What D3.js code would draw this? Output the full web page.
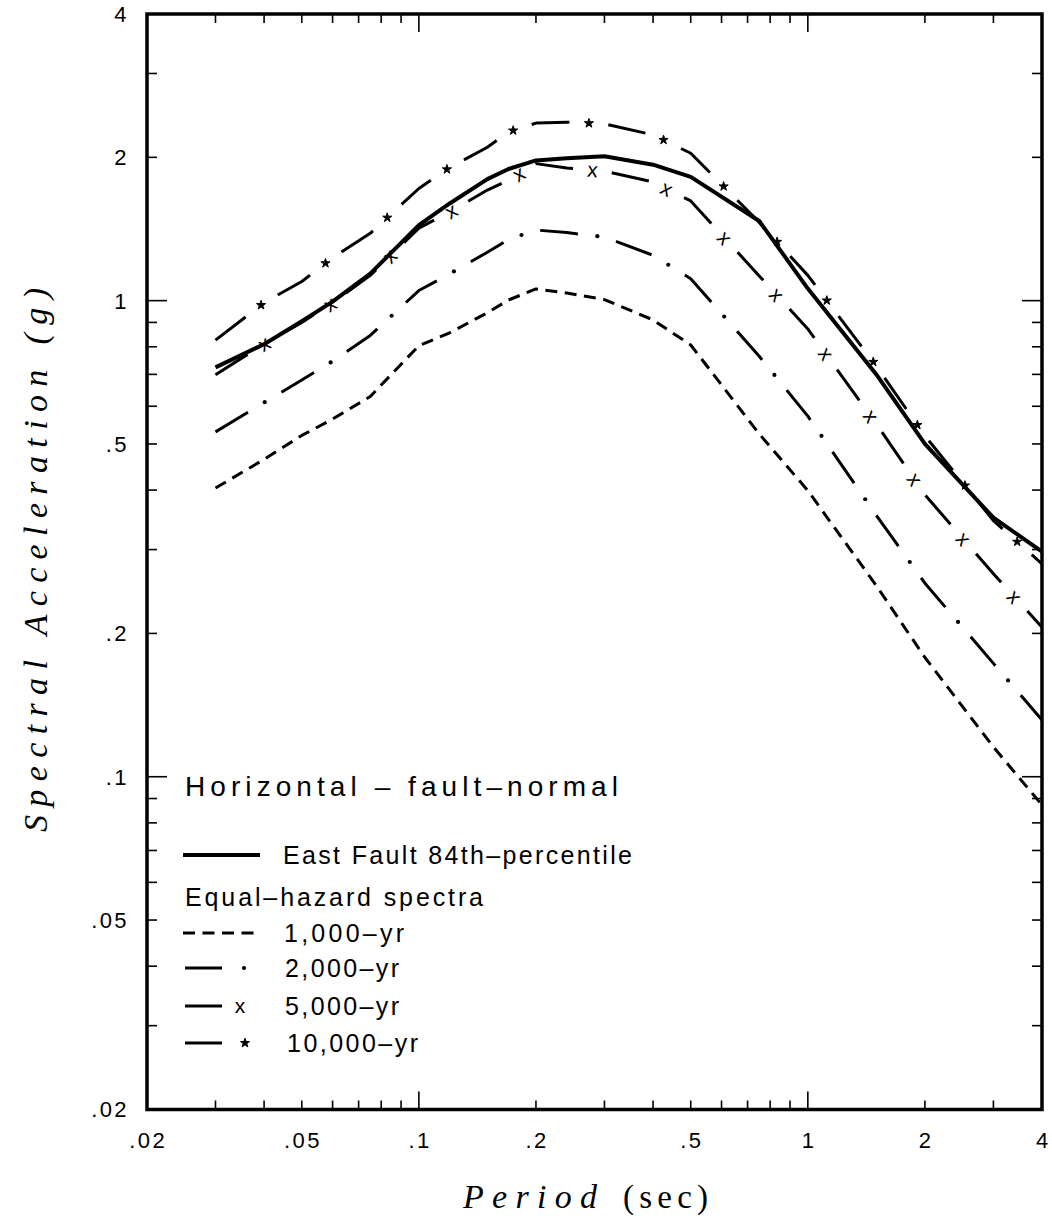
<!DOCTYPE html>
<html><head><meta charset="utf-8">
<script src="https://cdn.jsdelivr.net/npm/d3@7"></script>
<style>html,body{margin:0;padding:0;background:#fff}svg{display:block}</style>
</head><body><svg id="c" width="1052" height="1222"></svg>
<script>
// ---------------- data ----------------
const periods = [0.03,0.04,0.05,0.06,0.075,0.1,0.12,0.15,0.17,0.2,0.24,0.3,0.4,0.5,0.75,1,1.5,2,3,4];
const eastFault84 = [0.724,0.81,0.905,0.995,1.14,1.44,1.60,1.80,1.89,1.97,1.99,2.01,1.93,1.82,1.47,1.06,0.70,0.50,0.35,0.297];
const eh1000  = [0.404,0.464,0.521,0.564,0.629,0.804,0.856,0.943,1.003,1.058,1.038,1.005,0.911,0.807,0.525,0.399,0.252,0.178,0.1155,0.0872];
const eh2000  = [0.53,0.611,0.681,0.746,0.845,1.05,1.138,1.264,1.344,1.407,1.39,1.36,1.245,1.112,0.764,0.572,0.354,0.255,0.173,0.1316];
const eh5000  = [0.699,0.811,0.90,0.99,1.13,1.42,1.535,1.707,1.79,1.94,1.90,1.87,1.775,1.62,1.127,0.872,0.551,0.391,0.267,0.206];
const eh10000 = [0.826,0.99,1.097,1.23,1.385,1.72,1.904,2.10,2.26,2.36,2.37,2.35,2.23,2.04,1.46,1.13,0.729,0.52,0.345,0.28];

const xTickValues = [0.02,0.05,0.1,0.2,0.5,1,2,4];
const xTickLabels = [".02",".05",".1",".2",".5","1","2","4"];
const yTickValues = [0.02,0.05,0.1,0.2,0.5,1,2,4];
const yTickLabels = [".02",".05",".1",".2",".5","1","2","4"];

const legendTitle = "Horizontal \u2013 fault\u2013normal";
const legendSolid = "East Fault 84th\u2013percentile";
const legendSub = "Equal\u2013hazard spectra";
const legendNames = ["1,000\u2013yr","2,000\u2013yr","5,000\u2013yr","10,000\u2013yr"];
const xTitle = ["Period","(sec)"];
const yTitle = "Spectral Acceleration (g)";

// ---------------- drawing ----------------
const svg = d3.select("#c");
svg.append("rect").attr("width",1052).attr("height",1222).attr("fill","#fff");
const F = {left:147, right:1042, top:14, bottom:1109.5};
const x = d3.scaleLog().domain([0.02,4]).range([F.left,F.right]);
const y = d3.scaleLog().domain([0.02,4]).range([F.bottom,F.top]);

const sans = "'Liberation Sans', Arial, sans-serif";
const serif = "'Liberation Serif', 'Times New Roman', serif";

// frame
svg.append("rect").attr("x",F.left).attr("y",F.top).attr("width",F.right-F.left).attr("height",F.bottom-F.top)
  .attr("fill","none").attr("stroke","#000").attr("stroke-width",3.5);

// ticks (inward, all four sides)
const isMajor = t => Math.abs(Math.log10(t)-Math.round(Math.log10(t)))<1e-9;
const tg = svg.append("g").attr("stroke","#000").attr("stroke-width",1.6);
x.ticks().filter(t=>t>0.0200001 && t<3.99999).forEach(t=>{
  const len = isMajor(t)?18:9, px = x(t);
  tg.append("line").attr("x1",px).attr("x2",px).attr("y1",F.bottom).attr("y2",F.bottom-len);
  tg.append("line").attr("x1",px).attr("x2",px).attr("y1",F.top).attr("y2",F.top+len);
});
y.ticks().filter(t=>t>0.0200001 && t<3.99999).forEach(t=>{
  const len = isMajor(t)?20:10, py = y(t);
  tg.append("line").attr("y1",py).attr("y2",py).attr("x1",F.left).attr("x2",F.left+len);
  tg.append("line").attr("y1",py).attr("y2",py).attr("x1",F.right).attr("x2",F.right-len);
});

// tick labels
svg.append("g").selectAll("text").data(xTickValues).join("text")
  .attr("x",d=>x(d)+1.2).attr("y",1148).attr("text-anchor","middle")
  .attr("font-family",sans).attr("font-size",22).attr("letter-spacing",2.4)
  .text((d,i)=>xTickLabels[i]);
svg.append("g").selectAll("text").data(yTickValues).join("text")
  .attr("x",129).attr("y",d=>y(d)).attr("dy","0.36em").attr("text-anchor","end")
  .attr("font-family",sans).attr("font-size",22).attr("letter-spacing",2.4)
  .text((d,i)=>yTickLabels[i]);

// axis titles
svg.append("text").attr("x",463).attr("y",1208).attr("font-family",serif).attr("font-style","italic")
  .attr("font-size",34).attr("textLength",134).attr("lengthAdjust","spacing").text(xTitle[0]);
svg.append("text").attr("x",623).attr("y",1208).attr("font-family",serif)
  .attr("font-size",33).attr("textLength",85).attr("lengthAdjust","spacing").text(xTitle[1]);
svg.append("text").attr("transform","translate(47,832) rotate(-90)").attr("font-family",serif)
  .attr("font-style","italic").attr("font-size",34).attr("textLength",544).attr("lengthAdjust","spacing").text(yTitle);

// series
const line = d3.line().x(d=>x(d[0])).y(d=>y(d[1]));
const series = [
  {vals:eh1000,  w:3,  dash:"12,7.5", marker:null},
  {vals:eh2000,  w:3,  dash:"38,39",  marker:"dot"},
  {vals:eh5000,  w:3,  dash:"38,39",  marker:"x"},
  {vals:eh10000, w:3,  dash:"38,39",  marker:"star"},
  {vals:eastFault84, w:4, dash:null,  marker:null}
];
const plot = svg.append("g");
function drawMarker(g, type, px, py, ang){
  if(type==="dot"){
    g.append("circle").attr("cx",px).attr("cy",py).attr("r",2.1).attr("fill","#000");
  } else if(type==="x"){
    g.append("text").attr("transform",`translate(${px},${py}) rotate(${ang})`)
      .attr("text-anchor","middle").attr("dy","0.33em").attr("font-family",sans).attr("font-size",21)
      .text("x");
  } else if(type==="star"){
    g.append("path").attr("transform",`translate(${px},${py})`)
      .attr("d",d3.symbol(d3.symbolStar,26)()).attr("fill","#000").attr("stroke","#000").attr("stroke-width",1);
  }
}
series.forEach(s=>{
  const pts = periods.map((p,i)=>[p,s.vals[i]]);
  const path = plot.append("path").attr("d",line(pts)).attr("fill","none").attr("stroke","#000")
    .attr("stroke-width",s.w).attr("stroke-linejoin","round")
    .attr("stroke-dasharray",s.dash);
  if(s.marker){
    const node = path.node(), total = node.getTotalLength();
    for(let d=57.5; d<total-2; d+=77){
      const p = node.getPointAtLength(d);
      const a = node.getPointAtLength(Math.max(0,d-1)), b = node.getPointAtLength(Math.min(total,d+1));
      const ang = Math.atan2(b.y-a.y,b.x-a.x)*180/Math.PI;
      drawMarker(plot, s.marker, p.x, p.y, ang);
    }
  }
});

// legend
const lg = svg.append("g");
function ltext(txt, lx, ly, size, tl){
  lg.append("text").attr("x",lx).attr("y",ly).attr("dy","0.36em").attr("font-family",sans)
    .attr("font-size",size).attr("textLength",tl).attr("lengthAdjust","spacing").text(txt);
}
ltext(legendTitle,185,786,28,433);
lg.append("line").attr("x1",183).attr("x2",260).attr("y1",855).attr("y2",855).attr("stroke","#000").attr("stroke-width",4);
ltext(legendSolid,283,855,25,349);
ltext(legendSub,185,897,25,298);
lg.append("line").attr("x1",183).attr("x2",258).attr("y1",933).attr("y2",933).attr("stroke","#000").attr("stroke-width",3).attr("stroke-dasharray","12,7.5");
ltext(legendNames[0],284,933,25,120);
const rows = [{yy:968,m:"dot",mx:244},{yy:1006,m:"x",mx:240},{yy:1043,m:"star",mx:245}];
rows.forEach((r,i)=>{
  lg.append("line").attr("x1",185).attr("x2",222).attr("y1",r.yy).attr("y2",r.yy).attr("stroke","#000").attr("stroke-width",3);
  drawMarker(lg, r.m, r.mx, r.yy, 0);
  ltext(legendNames[i+1], i===2?287:285, r.yy, 25, i===2?131:114);
});
</script></body></html>
